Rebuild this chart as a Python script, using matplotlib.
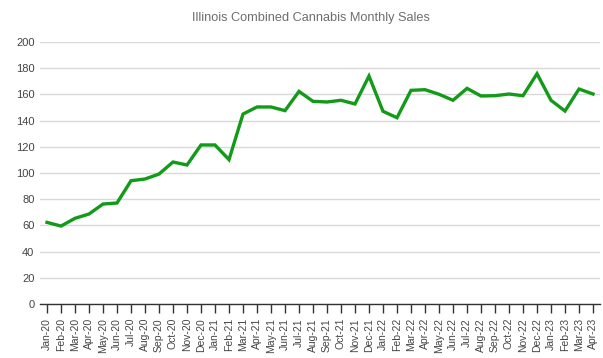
import matplotlib
matplotlib.use("Agg")
import matplotlib.pyplot as plt

months = ["Jan-20","Feb-20","Mar-20","Apr-20","May-20","Jun-20","Jul-20","Aug-20","Sep-20","Oct-20","Nov-20","Dec-20",
          "Jan-21","Feb-21","Mar-21","Apr-21","May-21","Jun-21","Jul-21","Aug-21","Sep-21","Oct-21","Nov-21","Dec-21",
          "Jan-22","Feb-22","Mar-22","Apr-22","May-22","Jun-22","Jul-22","Aug-22","Sep-22","Oct-22","Nov-22","Dec-22",
          "Jan-23","Feb-23","Mar-23","Apr-23"]
sales = [62.3, 59.5, 65.4, 68.7, 76.3, 77.1, 94.1, 95.4, 99.2, 108.4, 106.1, 121.4,
         121.4, 110.2, 145.0, 150.4, 150.4, 147.6, 162.3, 154.7, 154.2, 155.5, 152.7, 174.0,
         147.1, 142.2, 163.1, 163.6, 160.1, 155.5, 164.6, 158.8, 159.0, 160.3, 159.0, 175.8,
         155.5, 147.3, 164.1, 160.3]
yticks = [0, 20, 40, 60, 80, 100, 120, 140, 160, 180, 200]
title = "Illinois Combined Cannabis Monthly Sales"

plt.rcParams['font.family'] = ['Liberation Sans', 'DejaVu Sans']
W, H = 603, 358
fig = plt.figure(figsize=(W/100, H/100), dpi=100)
ax = fig.add_axes([40/W, (H-304)/H, 560/W, 262/H])

x = list(range(len(months)))
ax.plot(x, sales, color="#129a18", lw=2.4, solid_joinstyle="miter", zorder=3)

ax.set_xlim(-0.5, len(months)-0.5)
ax.set_ylim(0, 200)
ax.set_yticks(yticks)
ax.set_yticklabels([str(v) for v in yticks])
ax.set_xticks(x)
ax.set_xticklabels(months, rotation=90)
ax.grid(axis='y', color="#d9d9d9", lw=1)
ax.set_axisbelow(True)
for s in ['top', 'right', 'left']:
    ax.spines[s].set_visible(False)
ax.spines['bottom'].set_color("#333333")
ax.spines['bottom'].set_linewidth(1)
ax.spines['bottom'].set_zorder(4)
ax.tick_params(axis='y', length=0, pad=4, labelsize=8, labelcolor="#444444")
ax.tick_params(axis='x', length=6.5, width=1, color="#333333", pad=3.5, labelsize=7.5, labelcolor="#444444")

fig.text(311/W, 1-18/H, title, ha='center', va='center', fontsize=9.2, color="#6e6e6e")

fig.savefig("out.png", dpi=100, facecolor="white")
